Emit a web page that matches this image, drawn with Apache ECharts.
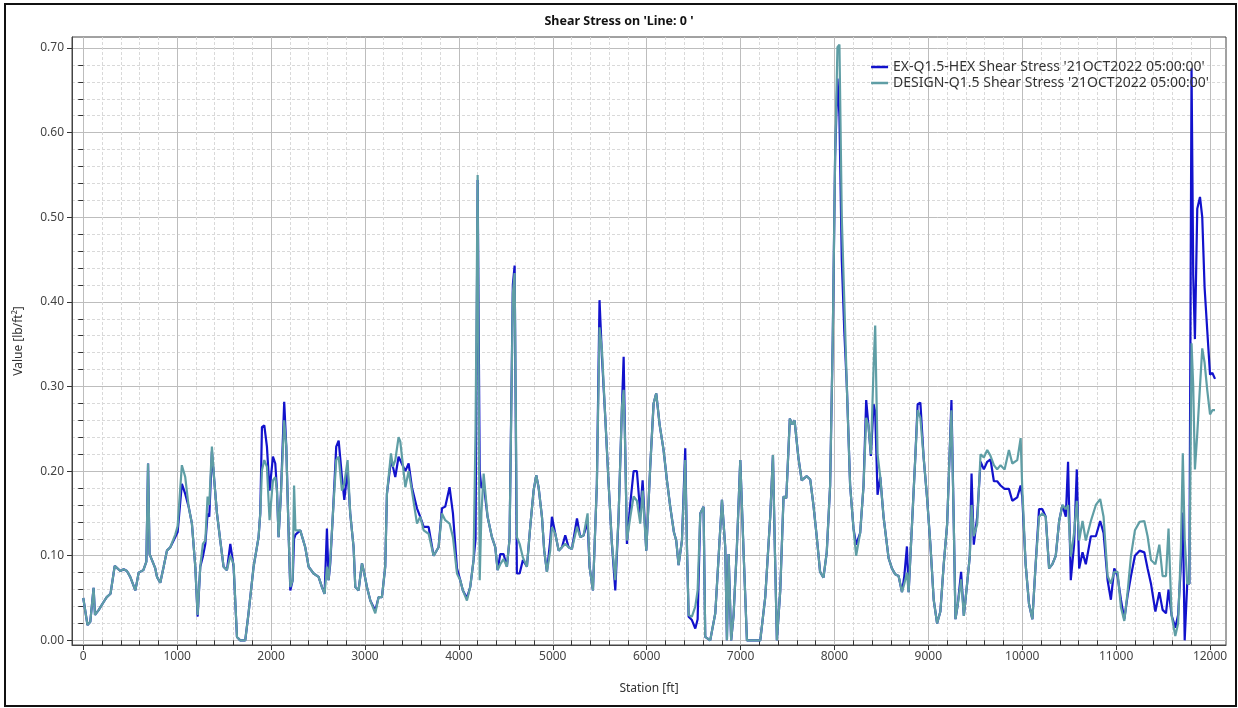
<!DOCTYPE html>
<html>
<head>
<meta charset="utf-8">
<script src="https://cdn.jsdelivr.net/npm/echarts@6/dist/echarts.min.js"></script>
<style>
html,body{margin:0;padding:0;background:#fff;}
#chart{position:absolute;left:0;top:0;width:1238px;height:708px;}
#frame{position:absolute;left:4px;top:3px;width:1229px;height:700px;border:2px solid #111;pointer-events:none;}
</style>
</head>
<body>
<div id="chart"></div>
<div id="frame"></div>
<script>
const titleText = "Shear Stress on 'Line: 0 '";
const seriesNames = ["EX-Q1.5-HEX Shear Stress '21OCT2022 05:00:00'", "DESIGN-Q1.5 Shear Stress '21OCT2022 05:00:00'"];
const xTickLabels = [0,1000,2000,3000,4000,5000,6000,7000,8000,9000,10000,11000,12000];
const yTickLabels = [0,0.1,0.2,0.3,0.4,0.5,0.6,0.7];

const stations = [0,45,75,110,125,165,215,250,290,335,395,430,465,500,555,590,640,672,690,706,731,767,785,820,856,891,927,980,1005,1050,1086,1122,1157,1193,1218,1246,1274,1300,1324,1342,1370,1395,1424,1459,1494,1530,1566,1601,1637,1670,1725,1760,1814,1867,1885,1903,1928,1956,1984,2020,2045,2063,2080,2105,2140,2162,2187,2205,2230,2245,2260,2311,2364,2400,2453,2506,2542,2570,2595,2613,2630,2659,2694,2720,2755,2780,2815,2843,2879,2897,2932,2968,2993,3021,3057,3110,3145,3181,3216,3234,3277,3298,3323,3358,3376,3430,3465,3500,3554,3589,3625,3678,3731,3784,3820,3855,3901,3937,3980,4015,4043,4086,4121,4157,4178,4200,4222,4240,4264,4306,4352,4388,4413,4441,4476,4512,4540,4575,4594,4618,4647,4682,4725,4760,4796,4824,4849,4885,4909,4938,4973,4991,5027,5063,5098,5133,5169,5204,5258,5293,5328,5371,5392,5428,5470,5498,5524,5559,5595,5630,5666,5701,5737,5755,5772,5790,5826,5861,5896,5932,5957,5996,6038,6074,6102,6138,6180,6216,6251,6290,6315,6340,6376,6411,6430,6447,6482,6518,6543,6571,6606,6624,6677,6731,6802,6837,6855,6873,6900,6926,6961,6997,7032,7068,7210,7263,7316,7345,7366,7387,7423,7458,7487,7525,7550,7575,7616,7651,7705,7742,7776,7811,7847,7883,7918,7954,7982,8007,8032,8053,8078,8105,8132,8167,8203,8231,8274,8310,8338,8363,8388,8417,8434,8459,8488,8523,8577,8612,8648,8683,8719,8744,8772,8790,8826,8861,8886,8915,8950,8986,9022,9057,9093,9128,9164,9200,9228,9246,9271,9289,9314,9349,9378,9413,9442,9460,9484,9520,9556,9591,9627,9662,9698,9733,9769,9812,9858,9894,9947,9983,10000,10036,10072,10108,10143,10179,10214,10250,10286,10321,10357,10393,10428,10464,10488,10517,10552,10581,10606,10642,10677,10731,10784,10830,10866,10909,10944,10980,11015,11051,11087,11122,11158,11200,11250,11300,11335,11371,11418,11460,11495,11531,11558,11590,11630,11660,11690,11710,11730,11757,11780,11803,11821,11839,11864,11893,11917,11942,11971,12000,12025,12053];

const exValues = [0.05,0.018,0.022,0.062,0.03,0.036,0.045,0.051,0.055,0.088,0.082,0.084,0.082,0.075,0.059,0.08,0.083,0.093,0.209,0.102,0.095,0.085,0.075,0.068,0.087,0.106,0.11,0.122,0.128,0.185,0.173,0.158,0.138,0.087,0.028,0.087,0.099,0.114,0.15,0.146,0.223,0.189,0.15,0.118,0.087,0.083,0.114,0.087,0.004,0,0,0.032,0.087,0.122,0.15,0.252,0.254,0.229,0.177,0.217,0.209,0.177,0.122,0.173,0.282,0.229,0.126,0.059,0.071,0.12,0.125,0.13,0.11,0.087,0.079,0.075,0.063,0.055,0.132,0.071,0.09,0.15,0.229,0.236,0.193,0.166,0.201,0.15,0.11,0.063,0.059,0.091,0.079,0.063,0.047,0.035,0.051,0.051,0.087,0.173,0.213,0.205,0.193,0.217,0.217,0.2,0.209,0.181,0.156,0.146,0.134,0.134,0.1,0.11,0.156,0.158,0.181,0.15,0.085,0.071,0.059,0.05,0.063,0.095,0.12,0.544,0.2,0.18,0.185,0.146,0.122,0.11,0.083,0.102,0.102,0.087,0.12,0.42,0.443,0.079,0.079,0.095,0.087,0.134,0.177,0.195,0.181,0.146,0.106,0.081,0.118,0.146,0.126,0.106,0.11,0.124,0.11,0.108,0.144,0.122,0.124,0.14,0.087,0.059,0.185,0.402,0.335,0.264,0.185,0.114,0.059,0.146,0.276,0.335,0.225,0.114,0.162,0.2,0.2,0.15,0.189,0.106,0.205,0.28,0.292,0.255,0.225,0.189,0.158,0.128,0.118,0.089,0.118,0.227,0.106,0.028,0.024,0.014,0.025,0.15,0.158,0.004,0,0.032,0.166,0.11,0,0.102,0,0.03,0.11,0.213,0.105,0,0,0.051,0.146,0.219,0.105,0,0.059,0.17,0.168,0.262,0.255,0.26,0.216,0.189,0.194,0.19,0.16,0.123,0.081,0.074,0.104,0.183,0.356,0.571,0.664,0.62,0.45,0.365,0.3,0.183,0.132,0.113,0.127,0.183,0.284,0.253,0.218,0.279,0.27,0.172,0.193,0.146,0.097,0.085,0.078,0.076,0.057,0.076,0.111,0.057,0.137,0.216,0.279,0.281,0.216,0.169,0.113,0.048,0.02,0.034,0.09,0.137,0.225,0.284,0.137,0.025,0.043,0.081,0.029,0.067,0.1,0.197,0.113,0.146,0.211,0.202,0.211,0.214,0.188,0.188,0.183,0.179,0.179,0.165,0.169,0.183,0.17,0.09,0.043,0.025,0.09,0.155,0.155,0.146,0.085,0.09,0.1,0.141,0.16,0.146,0.211,0.071,0.113,0.202,0.085,0.104,0.09,0.123,0.123,0.141,0.127,0.071,0.048,0.085,0.076,0.048,0.025,0.053,0.076,0.1,0.106,0.104,0.085,0.067,0.034,0.057,0.036,0.032,0.06,0.03,0.015,0.03,0.09,0.151,0,0.067,0.067,0.676,0.431,0.356,0.51,0.524,0.5,0.417,0.365,0.314,0.316,0.309];

const designValues = [0.05,0.018,0.022,0.062,0.03,0.036,0.045,0.051,0.055,0.088,0.082,0.084,0.082,0.075,0.059,0.08,0.083,0.093,0.209,0.102,0.095,0.085,0.075,0.068,0.087,0.106,0.11,0.125,0.135,0.207,0.193,0.158,0.138,0.087,0.03,0.087,0.114,0.118,0.17,0.16,0.229,0.189,0.15,0.118,0.087,0.083,0.1,0.09,0.004,0,0,0.032,0.087,0.122,0.15,0.201,0.213,0.205,0.142,0.189,0.193,0.177,0.122,0.173,0.26,0.229,0.126,0.063,0.071,0.183,0.13,0.13,0.11,0.087,0.079,0.075,0.063,0.055,0.087,0.071,0.094,0.15,0.213,0.217,0.177,0.185,0.213,0.15,0.11,0.063,0.059,0.091,0.079,0.063,0.047,0.032,0.051,0.051,0.087,0.173,0.221,0.205,0.213,0.24,0.235,0.181,0.2,0.177,0.138,0.146,0.13,0.126,0.1,0.11,0.15,0.142,0.138,0.122,0.079,0.071,0.059,0.047,0.063,0.095,0.25,0.55,0.071,0.15,0.197,0.146,0.122,0.11,0.083,0.09,0.096,0.087,0.12,0.41,0.434,0.122,0.114,0.098,0.087,0.134,0.177,0.195,0.181,0.146,0.106,0.081,0.106,0.134,0.126,0.106,0.11,0.114,0.11,0.108,0.134,0.122,0.124,0.15,0.087,0.059,0.185,0.37,0.343,0.264,0.185,0.114,0.071,0.146,0.276,0.296,0.225,0.118,0.146,0.17,0.165,0.138,0.177,0.106,0.205,0.28,0.292,0.255,0.225,0.189,0.158,0.128,0.118,0.089,0.118,0.213,0.106,0.03,0.028,0.04,0.059,0.15,0.158,0.004,0,0.032,0.166,0.11,0,0.102,0,0.03,0.11,0.213,0.105,0,0,0.051,0.146,0.219,0.105,0,0.059,0.17,0.168,0.262,0.255,0.26,0.216,0.189,0.194,0.19,0.16,0.123,0.081,0.074,0.104,0.183,0.356,0.571,0.701,0.704,0.5,0.4,0.3,0.183,0.132,0.1,0.127,0.183,0.263,0.253,0.22,0.323,0.372,0.22,0.193,0.146,0.097,0.085,0.078,0.076,0.057,0.067,0.08,0.057,0.137,0.216,0.272,0.263,0.216,0.169,0.113,0.048,0.02,0.034,0.09,0.137,0.225,0.272,0.137,0.025,0.043,0.072,0.029,0.067,0.1,0.16,0.123,0.137,0.22,0.216,0.225,0.218,0.207,0.202,0.207,0.202,0.225,0.209,0.213,0.239,0.18,0.09,0.043,0.025,0.09,0.146,0.15,0.146,0.085,0.09,0.1,0.141,0.16,0.155,0.16,0.099,0.127,0.165,0.118,0.141,0.118,0.141,0.16,0.167,0.146,0.076,0.067,0.081,0.081,0.039,0.023,0.057,0.1,0.13,0.14,0.141,0.123,0.095,0.09,0.113,0.076,0.076,0.132,0.03,0.005,0.02,0.11,0.221,0.12,0.067,0.067,0.351,0.3,0.202,0.244,0.3,0.345,0.328,0.295,0.267,0.272,0.272];

const xMinorTicks = [];
for (let v = 0; v <= 12000; v += 200) if (v % 1000 !== 0) xMinorTicks.push(v);
const yMinorTicks = [];
for (let i = 0; i <= 70; i += 2) if (i % 10 !== 0) yMinorTicks.push(i / 100);

const font = 'Noto Sans';
const chart = echarts.init(document.getElementById('chart'), null, {renderer: 'canvas'});

const xRange = {min: -120, max: 12170};
const yRange = {min: -0.0055, max: 0.713};

chart.setOption({
  animation: false,
  backgroundColor: '#fff',
  textStyle: {fontFamily: font},
  title: {
    text: titleText, left: 'center', top: 10,
    textStyle: {fontSize: 12.5, fontWeight: 'bold', color: '#111', fontFamily: font}
  },
  legend: {
    orient: 'vertical', right: 24, top: 55, itemGap: 2,
    itemWidth: 17, itemHeight: 2.5, icon: 'rect',
    textStyle: {fontSize: 14, color: '#333', fontFamily: font},
    data: seriesNames
  },
  grid: {left: 72, top: 37, right: 12, bottom: 63, show: true, borderColor: '#444', borderWidth: 1, backgroundColor: 'transparent'},
  xAxis: [
    {
      type: 'value', min: xRange.min, max: xRange.max, position: 'bottom',
      axisLine: {show: false},
      axisTick: {show: true, customValues: xMinorTicks, length: 5, lineStyle: {color: '#333'}},
      axisLabel: {show: false},
      splitLine: {show: true, lineStyle: {color: '#d9d9d9', type: [3, 2], width: 1}}
    },
    {
      type: 'value', min: xRange.min, max: xRange.max, position: 'bottom',
      name: 'Station [ft]', nameLocation: 'middle', nameGap: 38,
      nameTextStyle: {fontSize: 12, color: '#333', fontFamily: font},
      axisLine: {show: true, onZero: false, lineStyle: {color: '#444'}},
      axisTick: {show: true, customValues: xTickLabels, length: 5, lineStyle: {color: '#333'}},
      axisLabel: {show: true, customValues: xTickLabels, margin: 6, fontSize: 12, color: '#444', fontFamily: font,
        formatter: v => String(Math.round(v))},
      splitLine: {show: true, lineStyle: {color: '#bdbdbd', width: 1}}
    }
  ],
  yAxis: [
    {
      type: 'value', min: yRange.min, max: yRange.max, position: 'left',
      axisLine: {show: false},
      axisTick: {show: true, customValues: yMinorTicks, length: 5, lineStyle: {color: '#333'}},
      axisLabel: {show: false},
      splitLine: {show: true, lineStyle: {color: '#d9d9d9', type: [3, 2], width: 1}}
    },
    {
      type: 'value', min: yRange.min, max: yRange.max, position: 'left',
      name: 'Value [lb/ft²]', nameLocation: 'middle', nameGap: 47,
      nameTextStyle: {fontSize: 12, color: '#333', fontFamily: font},
      axisLine: {show: true, onZero: false, lineStyle: {color: '#444'}},
      axisTick: {show: true, customValues: yTickLabels, length: 5, lineStyle: {color: '#333'}},
      axisLabel: {show: true, customValues: yTickLabels, margin: 8, fontSize: 12, color: '#444', fontFamily: font,
        formatter: v => v.toFixed(2)},
      splitLine: {show: true, lineStyle: {color: '#bdbdbd', width: 1}}
    }
  ],
  series: [
    {
      name: seriesNames[0], type: 'line', xAxisIndex: 1, yAxisIndex: 1,
      showSymbol: false, symbol: 'none', smooth: false,
      lineStyle: {color: '#1212cc', width: 2.2}, itemStyle: {color: '#1212cc'},
      data: stations.map((s, i) => [s, exValues[i]])
    },
    {
      name: seriesNames[1], type: 'line', xAxisIndex: 1, yAxisIndex: 1,
      showSymbol: false, symbol: 'none', smooth: false,
      lineStyle: {color: '#5f9ea5', width: 2.2}, itemStyle: {color: '#5f9ea5'},
      data: stations.map((s, i) => [s, designValues[i]])
    }
  ]
});
</script>
</body>
</html>
